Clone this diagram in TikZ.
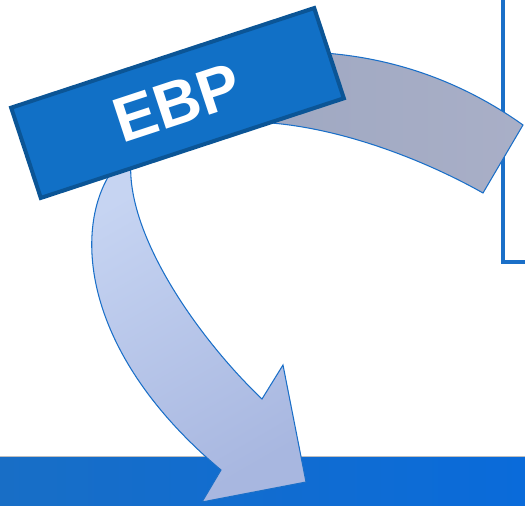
\documentclass[tikz,border=0pt]{standalone}
\usepackage{fontspec}
\newfontfamily\labelfont{Liberation Sans}
\usetikzlibrary{positioning,calc}
\definecolor{barleft}{HTML}{186EC6}
\definecolor{barright}{HTML}{0A6BDA}
\definecolor{frameblue}{HTML}{1A6FC8}
\definecolor{greyleft}{HTML}{9FA8C2}
\definecolor{greyright}{HTML}{A9AFC7}
\definecolor{arrowlight}{HTML}{C6D4F2}
\definecolor{arrowdark}{HTML}{A8B7E0}
\definecolor{ebpfill}{HTML}{1170C6}
\definecolor{ebpedge}{HTML}{0B5596}
\tikzset{
  frame/.style={draw=frameblue,line width=3.9pt},
  bandedge/.style={draw=frameblue,line width=0.9pt,line join=miter},
  greyband/.style={bandedge,left color=greyleft,right color=greyright},
  downarrow/.style={bandedge,top color=arrowlight,bottom color=arrowdark,shading angle=30},
  % the rotated label box, sizes in cm (1px = 0.03cm)
  ebpbox/.style={rectangle,draw=ebpedge,line width=0.12cm,fill=ebpfill,inner sep=0,
                 minimum width=9.57cm,minimum height=2.85cm,text=white,
                 font=\labelfont\bfseries\fontsize{54}{54}\selectfont},
}

\begin{document}
\begin{tikzpicture}[x=0.03cm,y=-0.03cm]
  \clip (0,0) rectangle (525,506);
  \useasboundingbox (0,0) rectangle (525,506);
  % bottom bar with its thin grey top edge
  \shade[left color=barleft,right color=barright] (0,457) rectangle (525,506);
  \draw[gray!50,line width=0.6pt] (0,456.5) -- (525,456.5);
  % open frame on the right
  \draw[frame] (503,-5) -- (503,262) -- (530,262);
  % curved arrow going down to the bar
  \shade[downarrow] (131,160) -- (114,168)
    .. controls (74,222) and (76,348) .. (221,470)
    -- (202,502) -- (306,482) -- (283,365) -- (262,399)
    .. controls (200,340) and (125,235) .. (131,160) -- cycle;
  % grey band towards the frame
  \shade[greyband] (285,52) .. controls (380,50) and (460,80) .. (523,125)
    -- (483,193) .. controls (430,163) and (340,125) .. (255,122) -- cycle;
  % label box on top
  \node[ebpbox,rotate=18.2] (ebp) at (177.5,103) {EBP};
\end{tikzpicture}
\end{document}
